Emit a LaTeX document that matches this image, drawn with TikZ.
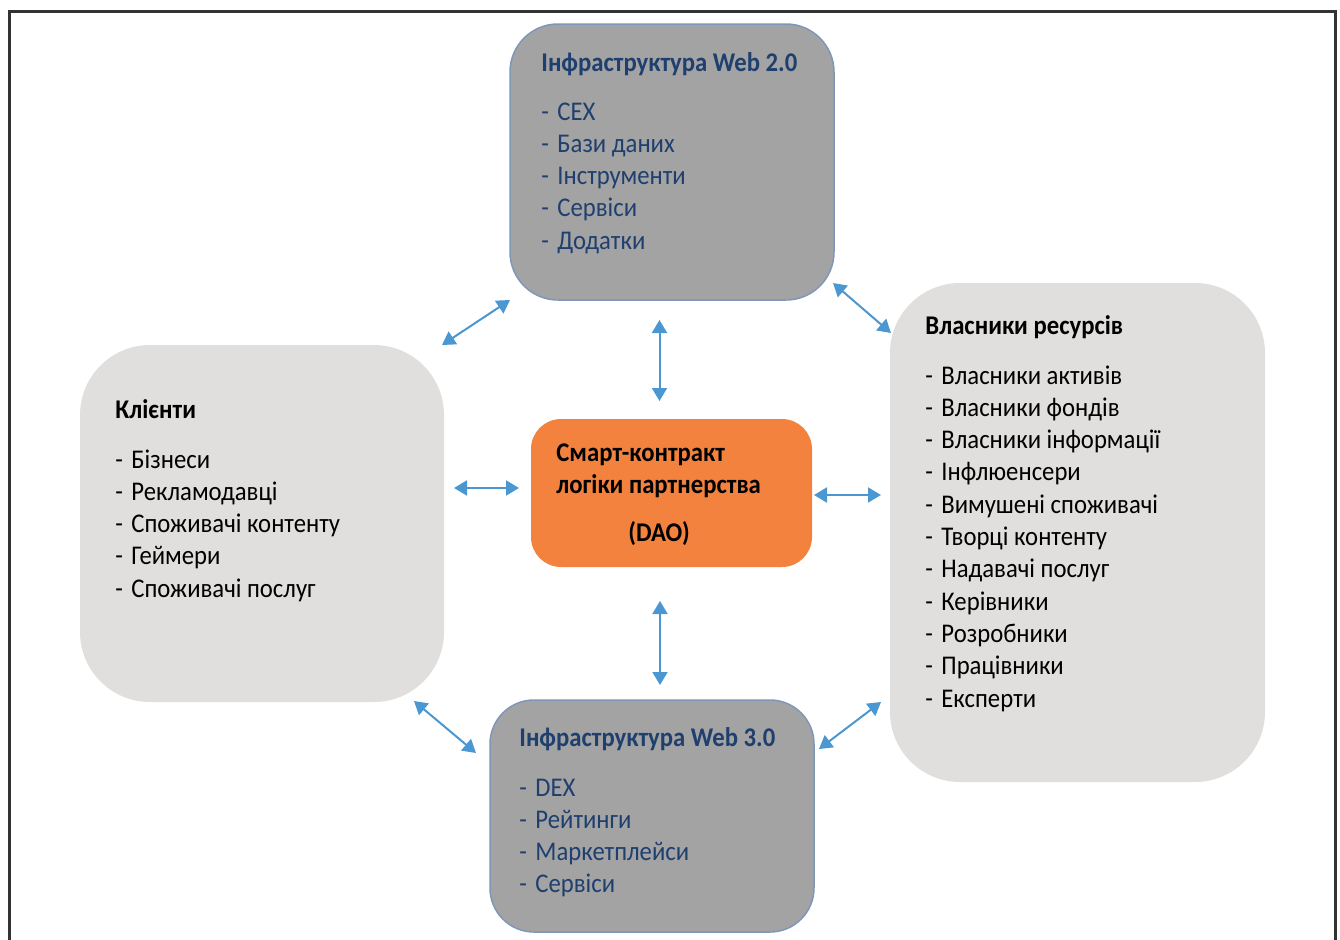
\documentclass[tikz,border=0pt]{standalone}
\usepackage{fontspec}
\setmainfont[FakeStretch=0.915]{Carlito}
\usetikzlibrary{positioning}
\usetikzlibrary{calc}
\usetikzlibrary{arrows.meta}

\definecolor{boxgray}{HTML}{A3A3A3}
\definecolor{boxlight}{HTML}{E0DFDE}
\definecolor{boxorange}{HTML}{F2823D}
\definecolor{boxedge}{HTML}{7F97B7}
\definecolor{navytext}{HTML}{1F3F6E}
\definecolor{linkblue}{HTML}{4A97D2}
\definecolor{framegray}{HTML}{333333}

\begin{document}
\begin{tikzpicture}[x=0.5pt, y=-0.5pt,
    infra/.style={draw=boxedge, line width=0.75pt, fill=boxgray, rectangle, rounded corners=24pt, inner sep=0pt, outer sep=0pt},
    side/.style={fill=boxlight, rectangle, rounded corners=35pt, inner sep=0pt, outer sep=0pt},
    core/.style={fill=boxorange, rectangle, rounded corners=15pt, inner sep=0pt, outer sep=0pt},
    head/.style={font=\fontsize{13.5}{16}\selectfont\bfseries, inner sep=0pt, anchor=base west},
    item/.style={font=\fontsize{13.5}{16}\selectfont, inner sep=0pt, anchor=base west},
    link/.style={{Triangle[width=7.5pt,length=6.5pt]}-{Triangle[width=7.5pt,length=6.5pt]}, line width=1pt, draw=linkblue, fill=linkblue}]

    \useasboundingbox (0,0) rectangle (1340,939);
    % frame
    \draw[framegray, line width=1.5pt] (9,960) -- (9,11) -- (1335,11) -- (1335,960);

    % boxes
    \node(web2)[infra, minimum width=162pt, minimum height=138pt] at (672,162) {};
    \node(clients)[side, minimum width=182pt, minimum height=178.5pt] at (262,523.5) {};
    \node(ctr)[core, minimum width=140.5pt, minimum height=74pt] at (671.5,493) {};
    \node(owners)[side, minimum width=187.5pt, minimum height=249.5pt] at (1077.5,532.5) {};
    \node(web3)[infra, rounded corners=22pt, minimum width=162pt, minimum height=116pt] at (652,816) {};

    % Web 2.0
    \node(web2head)[head, navytext] at (541,71) {Інфраструктура Web 2.0};
    \foreach \s [count=\i] in {CEX, Бази даних, Інструменти, Сервіси, Додатки}
        \node(web2-\i)[item, navytext] at (541,{120+32.3*(\i-1)}) {\makebox[8pt][l]{-}\s};

    % clients
    \node(clientshead)[head] at (115,418) {Клієнти};
    \foreach \s [count=\i] in {Бізнеси, Рекламодавці, Споживачі контенту, Геймери, Споживачі послуг}
        \node(clients-\i)[item] at (115,{468+32.3*(\i-1)}) {\makebox[8pt][l]{-}\s};

    % DAO
    \node(ctr-1)[head] at (556,461) {Смарт-контракт};
    \node(ctr-2)[head] at (556,493) {логіки партнерства};
    \node(ctr-3)[head] at (628,541) {(DAO)};

    % owners
    \node(ownershead)[head] at (925,334) {Власники ресурсів};
    \foreach \s [count=\i] in {Власники активів, Власники фондів, Власники інформації, Інфлюенсери, Вимушені споживачі, Творці контенту, Надавачі послуг, Керівники, Розробники, Працівники, Експерти}
        \node(owners-\i)[item] at (925,{384+32.3*(\i-1)}) {\makebox[8pt][l]{-}\s};

    % Web 3.0
    \node(web3head)[head, navytext] at (519,746) {Інфраструктура Web 3.0};
    \foreach \s [count=\i] in {DEX, Рейтинги, Маркетплейси, Сервіси}
        \node(web3-\i)[item, navytext] at (519,{796+32.3*(\i-1)}) {\makebox[8pt][l]{-}\s};

    % arrows
    \draw[link] ($(clients.north east)+(-2,0)$) -- (web2.south west);
    \draw[link] ($(web2.south)+(-12.5,20)$) -- ($(ctr.north)+(-12,-18)$);
    \draw[link] ($(web2.south east)+(-1,-17)$) -- ($(owners.north west)+(1,50)$);
    \draw[link] ($(clients.east)+(10,-35.5)$) -- ($(ctr.west)+(-12,-5)$);
    \draw[link] ($(ctr.east)+(2,2)$) -- ($(owners.west)+(-9,-37.5)$);
    \draw[link] ($(ctr.south)+(-11.5,34)$) -- ($(web3.north)+(8,-15)$);
    \draw[link] ($(clients.south east)+(-30,-1)$) -- ($(web3.north west)+(-14,53)$);
    \draw[link] ($(web3.north east)+(5,49)$) -- ($(owners.south west)+(-9,-80)$);

\end{tikzpicture}
\end{document}
